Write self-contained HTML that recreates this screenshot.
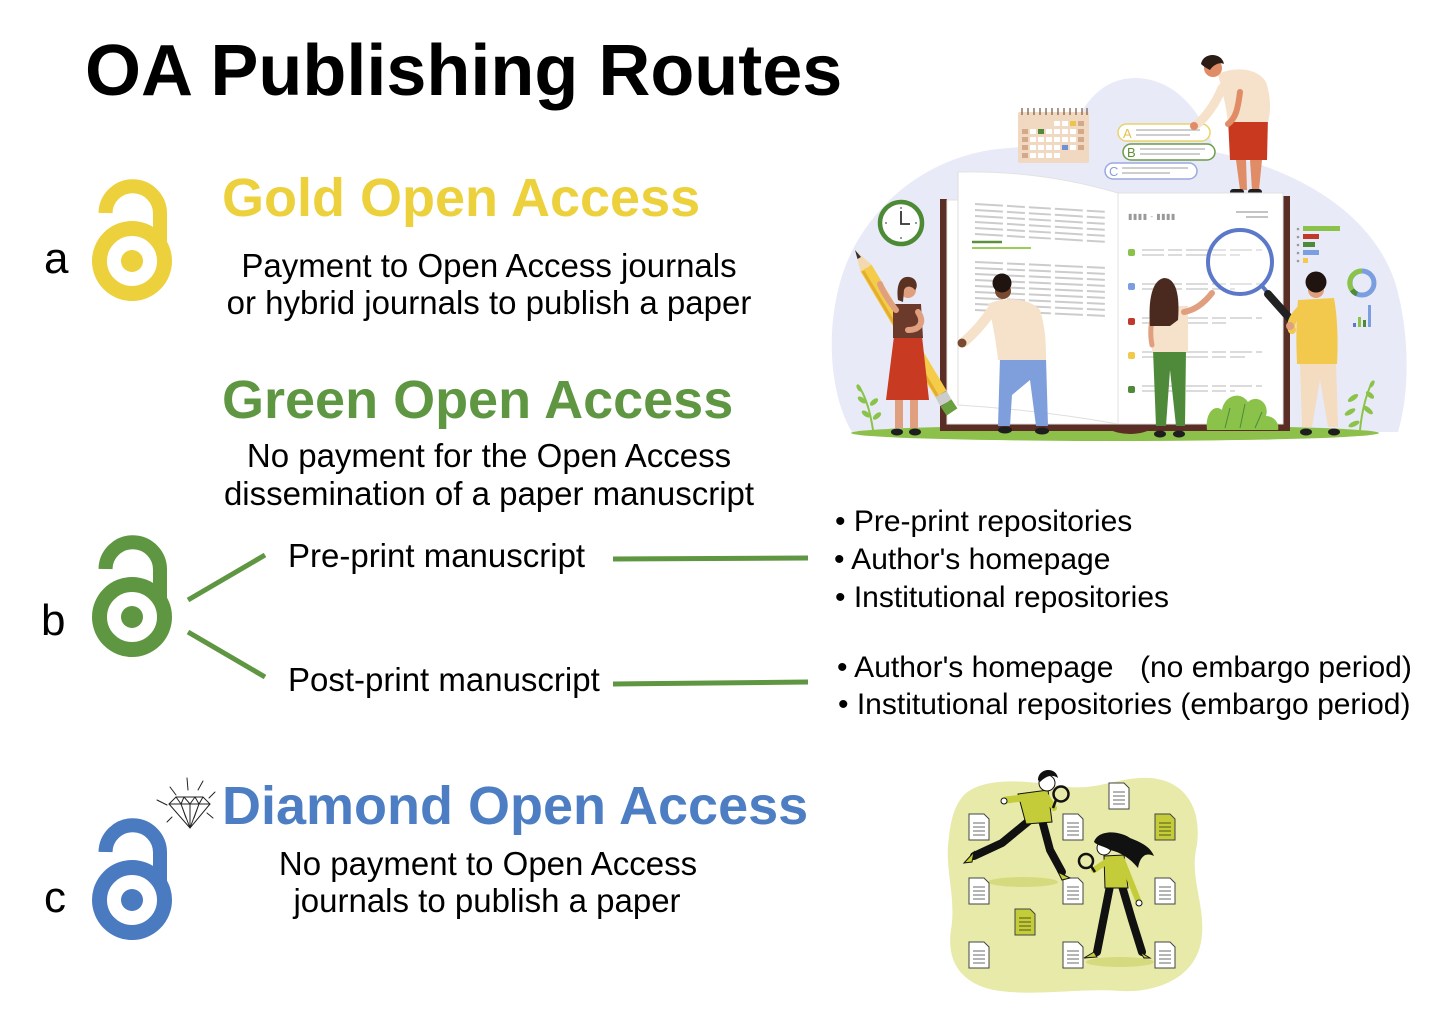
<!DOCTYPE html>
<html>
<head>
<meta charset="utf-8">
<style>
  html,body{margin:0;padding:0;background:#fff;}
  body{width:1448px;height:1013px;overflow:hidden;}
  svg{display:block;}
  text{font-family:"Liberation Sans",Arial,sans-serif;}
</style>
</head>
<body>
<svg width="1448" height="1013" viewBox="0 0 1448 1013" xmlns="http://www.w3.org/2000/svg">
  <rect width="1448" height="1013" fill="#ffffff"/>

  <!-- ===== Title ===== -->
  <text x="85" y="95" font-size="72" font-weight="bold" fill="#000">OA Publishing Routes</text>

  <!-- ===== Letters ===== -->
  <text x="44" y="273" font-size="44" fill="#000">a</text>
  <text x="41" y="635" font-size="44" fill="#000">b</text>
  <text x="44" y="912" font-size="44" fill="#000">c</text>

  <!-- ===== Locks ===== -->
  <g id="lockGold" fill="none" stroke="#ecd03c">
    <path d="M105.5 213 A27 27 0 0 1 160 214 L160 246" stroke-width="14"/>
    <circle cx="132" cy="261" r="32.5" stroke-width="15"/>
    <circle cx="132" cy="261" r="11" fill="#ecd03c" stroke="none"/>
  </g>
  <g transform="translate(0,356)" fill="none" stroke="#5e9641">
    <path d="M105.5 213 A27 27 0 0 1 160 214 L160 246" stroke-width="14"/>
    <circle cx="132" cy="261" r="32.5" stroke-width="15"/>
    <circle cx="132" cy="261" r="11" fill="#5e9641" stroke="none"/>
  </g>
  <g transform="translate(0,639)" fill="none" stroke="#4a7bc0">
    <path d="M105.5 213 A27 27 0 0 1 160 214 L160 246" stroke-width="14"/>
    <circle cx="132" cy="261" r="32.5" stroke-width="15"/>
    <circle cx="132" cy="261" r="11" fill="#4a7bc0" stroke="none"/>
  </g>

  <!-- ===== Diamond icon ===== -->
  <g stroke="#222" stroke-width="1" fill="none" stroke-linecap="round">
    <path d="M176 797 L203 797 L210 804 L190 828 L169 804 Z" fill="#fff"/>
    <path d="M169 804 L210 804"/>
    <path d="M176 797 L181 804 L190 828 M184 797 L181 804 M184 797 L190 804 L195 797 M190 804 L190 828 M203 797 L199 804 L190 828 M195 797 L199 804 M181 804 L186 818 M199 804 L194 818"/>
    <path d="M157 800 L167 805 M170 787 L176 795 M187 778 L188 790 M203 781 L198 790 M215 792 L209 798 M167 822 L172 817 M213 818 L207 813"/>
  </g>

  <!-- ===== Headings ===== -->
  <text x="222" y="216" font-size="54" font-weight="bold" fill="#ecd03c">Gold Open Access</text>
  <text x="222" y="418" font-size="54" font-weight="bold" fill="#5e9641">Green Open Access</text>
  <text x="222" y="824" font-size="54" font-weight="bold" fill="#4d7ec4">Diamond Open Access</text>

  <!-- ===== Body text ===== -->
  <g font-size="33" fill="#000" text-anchor="middle">
    <text x="489" y="277">Payment to Open Access journals</text>
    <text x="489" y="314">or hybrid journals to publish a paper</text>
    <text x="489" y="467">No payment for the Open Access</text>
    <text x="489" y="505">dissemination of a paper manuscript</text>
    <text x="488" y="875">No payment to Open Access</text>
    <text x="487" y="912">journals to publish a paper</text>
  </g>
  <g font-size="33" fill="#000">
    <text x="288" y="567">Pre-print manuscript</text>
    <text x="288" y="691">Post-print manuscript</text>
  </g>

  <!-- ===== Connectors ===== -->
  <g stroke="#5e9641" stroke-width="5" fill="none">
    <line x1="188" y1="600" x2="265" y2="555"/>
    <line x1="188" y1="632" x2="265" y2="677"/>
    <line x1="613" y1="559" x2="808" y2="558"/>
    <line x1="613" y1="684" x2="808" y2="682"/>
  </g>

  <!-- ===== Right lists ===== -->
  <g font-size="30" fill="#000">
    <text x="835" y="531">• Pre-print repositories</text>
    <text x="834" y="569">• Author's homepage</text>
    <text x="835" y="607">• Institutional repositories</text>
    <text x="837" y="677">• Author's homepage</text>
    <text x="1140" y="677">(no embargo period)</text>
    <text x="838" y="714">• Institutional repositories (embargo period)</text>
  </g>

  <!-- ===== Top-right illustration ===== -->
  <g>
    <!-- background blob -->
    <path d="M852 432 C826 390 822 300 858 240 C885 195 930 160 990 150 C1020 146 1050 146 1068 146 C1080 100 1105 78 1135 78 C1170 78 1200 105 1215 152 C1290 168 1370 208 1395 282 C1410 332 1410 392 1398 432 Z" fill="#e8ebf7"/>
    <!-- ground -->
    <ellipse cx="1115" cy="433" rx="264" ry="8" fill="#8dc04b"/>

    <!-- calendar -->
    <rect x="1018" y="112" width="71" height="51" rx="2" fill="#f1d8c1"/>
    <g stroke="#8a6a55" stroke-width="1.4">
      <line x1="1022" y1="108" x2="1022" y2="115"/><line x1="1028" y1="108" x2="1028" y2="115"/>
      <line x1="1034" y1="108" x2="1034" y2="115"/><line x1="1040" y1="108" x2="1040" y2="115"/>
      <line x1="1046" y1="108" x2="1046" y2="115"/><line x1="1052" y1="108" x2="1052" y2="115"/>
      <line x1="1058" y1="108" x2="1058" y2="115"/><line x1="1064" y1="108" x2="1064" y2="115"/>
      <line x1="1070" y1="108" x2="1070" y2="115"/><line x1="1076" y1="108" x2="1076" y2="115"/>
      <line x1="1082" y1="108" x2="1082" y2="115"/><line x1="1087" y1="108" x2="1087" y2="115"/>
    </g>
    <g fill="#ffffff">
      <rect x="1054" y="121" width="6" height="5"/><rect x="1062" y="121" width="6" height="5"/>
      <rect x="1030" y="129" width="6" height="5"/><rect x="1046" y="129" width="6" height="5"/><rect x="1054" y="129" width="6" height="5"/><rect x="1062" y="129" width="6" height="5"/><rect x="1070" y="129" width="6" height="5"/>
      <rect x="1030" y="137" width="6" height="5"/><rect x="1038" y="137" width="6" height="5"/><rect x="1046" y="137" width="6" height="5"/><rect x="1054" y="137" width="6" height="5"/><rect x="1062" y="137" width="6" height="5"/><rect x="1070" y="137" width="6" height="5"/>
      <rect x="1030" y="145" width="6" height="5"/><rect x="1038" y="145" width="6" height="5"/><rect x="1046" y="145" width="6" height="5"/><rect x="1054" y="145" width="6" height="5"/><rect x="1070" y="145" width="6" height="5"/>
      <rect x="1030" y="153" width="6" height="5"/><rect x="1038" y="153" width="6" height="5"/><rect x="1046" y="153" width="6" height="5"/><rect x="1054" y="153" width="6" height="5"/>
    </g>
    <g fill="#d4a98a">
      <rect x="1022" y="129" width="6" height="5"/><rect x="1022" y="137" width="6" height="5"/><rect x="1022" y="145" width="6" height="5"/><rect x="1022" y="153" width="6" height="5"/>
      <rect x="1078" y="121" width="6" height="5"/><rect x="1078" y="129" width="6" height="5"/><rect x="1078" y="137" width="6" height="5"/><rect x="1078" y="145" width="6" height="5"/>
    </g>
    <rect x="1070" y="121" width="6" height="5" fill="#e9c54a"/>
    <rect x="1038" y="129" width="6" height="5" fill="#4e8a3a"/>
    <rect x="1062" y="145" width="6" height="5" fill="#6f8fd8"/>

    <!-- option pills -->
    <rect x="1118" y="124" width="92" height="17" rx="8.5" fill="#fff" stroke="#e8d36c" stroke-width="1.5"/>
    <text x="1123" y="138" font-size="13" fill="#e2c14a">A</text>
    <g stroke="#bdbdbd" stroke-width="1.5"><line x1="1136" y1="130" x2="1200" y2="130"/><line x1="1136" y1="135" x2="1190" y2="135"/></g>
    <rect x="1123" y="144" width="92" height="16" rx="8" fill="#fff" stroke="#6e9a4a" stroke-width="1.5"/>
    <text x="1127" y="157" font-size="13" fill="#5e8f3a">B</text>
    <g stroke="#bdbdbd" stroke-width="1.5"><line x1="1140" y1="149" x2="1205" y2="149"/><line x1="1140" y1="154" x2="1200" y2="154"/></g>
    <rect x="1105" y="163" width="92" height="16" rx="8" fill="#fff" stroke="#9aa9de" stroke-width="1.5"/>
    <text x="1109" y="176" font-size="13" fill="#8b9cd8">C</text>
    <g stroke="#bdbdbd" stroke-width="1.5"><line x1="1122" y1="168" x2="1188" y2="168"/><line x1="1122" y1="173" x2="1170" y2="173"/></g>

    <!-- man on top -->
    <path d="M1236 160 L1240 190 L1247 190 L1246 160 Z M1250 160 L1252 190 L1259 190 L1262 160 Z" fill="#e08c66"/>
    <rect x="1230" y="189" width="14" height="6" rx="3" fill="#1e1e1e"/>
    <rect x="1248" y="189" width="14" height="6" rx="3" fill="#1e1e1e"/>
    <path d="M1228 118 L1268 116 L1267 160 L1230 160 Z" fill="#c8391f"/>
    <path d="M1218 74 C1235 66 1258 68 1266 82 C1272 100 1270 115 1268 122 L1228 122 C1226 105 1222 90 1218 74 Z" fill="#f6e2cb"/>
    <path d="M1222 88 C1215 105 1205 118 1196 125" stroke="#f6e2cb" stroke-width="9" stroke-linecap="round" fill="none"/>
    <circle cx="1194" cy="126" r="4" fill="#e08c66"/>
    <path d="M1240 92 C1238 108 1236 118 1228 124" stroke="#e08c66" stroke-width="6" stroke-linecap="round" fill="none"/>
    <circle cx="1213" cy="68" r="9" fill="#e08c66"/>
    <path d="M1201 64 C1203 52 1222 52 1224 64 C1220 62 1214 64 1210 70 C1206 68 1203 66 1201 64 Z" fill="#2b1d16"/>

    <!-- book -->
    <rect x="940" y="199" width="7" height="232" fill="#5a2e24"/>
    <rect x="1283" y="196" width="7" height="235" fill="#5a2e24"/>
    <rect x="940" y="424" width="350" height="7" fill="#5a2e24"/>
    <path d="M1105 428 Q1130 440 1155 428 Z" fill="#5a2e24"/>
    <path d="M947 424 L947 200 L958 200 L958 172 Q1040 170 1118 193 L1118 424 Z" fill="#ffffff" stroke="#e2e2e2" stroke-width="1"/>
    <path d="M958 172 L958 405 Q1040 410 1118 424" fill="none" stroke="#dedede" stroke-width="1"/>
    <rect x="1118" y="193" width="165" height="231" fill="#ffffff" stroke="#e2e2e2" stroke-width="1"/>

    <!-- left page text -->
    <g stroke="#cccccc" stroke-width="2" stroke-dasharray="28 4 18 4 22 4">
      <line x1="975" y1="204" x2="1108" y2="212"/>
      <line x1="975" y1="210" x2="1108" y2="218"/>
      <line x1="975" y1="216" x2="1108" y2="224"/>
      <line x1="975" y1="222" x2="1108" y2="230"/>
      <line x1="975" y1="228" x2="1108" y2="236"/>
      <line x1="975" y1="234" x2="1108" y2="242"/>
      <line x1="975" y1="262" x2="1108" y2="268"/>
      <line x1="975" y1="268" x2="1108" y2="274"/>
      <line x1="975" y1="274" x2="1108" y2="280"/>
      <line x1="975" y1="280" x2="1108" y2="286"/>
      <line x1="975" y1="286" x2="1108" y2="292"/>
      <line x1="975" y1="292" x2="1108" y2="298"/>
      <line x1="975" y1="298" x2="1108" y2="304"/>
      <line x1="975" y1="304" x2="1108" y2="310"/>
      <line x1="975" y1="310" x2="1108" y2="316"/>
    </g>
    <line x1="972" y1="242" x2="1002" y2="242" stroke="#5e8f3a" stroke-width="2.5"/>
    <line x1="972" y1="248" x2="1031" y2="248" stroke="#9ccc58" stroke-width="2"/>

    <!-- right page content -->
    <text x="1128" y="219" font-size="8" fill="#9a9a9a" letter-spacing="0.5">▮▮▮▮ - ▮▮▮▮</text>
    <line x1="1236" y1="212" x2="1268" y2="212" stroke="#b0b0b0" stroke-width="1.5"/>
    <line x1="1246" y1="217" x2="1268" y2="217" stroke="#b0b0b0" stroke-width="1.5"/>
    <rect x="1128" y="249" width="7" height="7" rx="2" fill="#8bc34a"/>
    <rect x="1128" y="283" width="7" height="7" rx="2" fill="#7b9ee0"/>
    <rect x="1128" y="318" width="7" height="7" rx="2" fill="#c0392b"/>
    <rect x="1128" y="352" width="7" height="7" rx="2" fill="#f2c94c"/>
    <rect x="1128" y="386" width="7" height="7" rx="2" fill="#4e8a3a"/>
    <g stroke="#cfcfcf" stroke-width="1.6" stroke-dasharray="22 4 14 4">
      <line x1="1142" y1="250" x2="1262" y2="250"/><line x1="1142" y1="255" x2="1240" y2="255"/>
      <line x1="1142" y1="284" x2="1262" y2="284"/><line x1="1142" y1="289" x2="1235" y2="289"/>
      <line x1="1142" y1="318" x2="1262" y2="318"/><line x1="1142" y1="323" x2="1230" y2="323"/>
      <line x1="1142" y1="352" x2="1262" y2="352"/><line x1="1142" y1="357" x2="1245" y2="357"/>
      <line x1="1142" y1="386" x2="1262" y2="386"/><line x1="1142" y1="391" x2="1235" y2="391"/>
    </g>

    <!-- clock -->
    <circle cx="901" cy="223" r="21" fill="#ffffff" stroke="#4c8a36" stroke-width="4.5"/>
    <g stroke="#555" stroke-width="1.2">
      <line x1="901" y1="207" x2="901" y2="209"/><line x1="901" y1="237" x2="901" y2="239"/>
      <line x1="885" y1="223" x2="887" y2="223"/><line x1="915" y1="223" x2="917" y2="223"/>
    </g>
    <path d="M901 211 L901 224 L910 224" stroke="#333" stroke-width="1.8" fill="none"/>

    <!-- pencil -->
    <line x1="866" y1="268" x2="941" y2="394" stroke="#f5cc4a" stroke-width="13"/>
    <line x1="863" y1="271" x2="938" y2="397" stroke="#e3ad2d" stroke-width="3"/>
    <polygon points="855,250 860.5,271.5 871.5,264.5" fill="#f3d9b0"/>
    <polygon points="855,250 857.5,259 861,257" fill="#333"/>
    <line x1="941" y1="394" x2="946" y2="403" stroke="#cccccc" stroke-width="13"/>
    <line x1="946" y1="403" x2="952" y2="412" stroke="#6a9f3f" stroke-width="13"/>

    <!-- woman left -->
    <rect x="895" y="398" width="8" height="30" fill="#e0a080"/>
    <rect x="910" y="398" width="8" height="30" fill="#e0a080"/>
    <ellipse cx="897" cy="432" rx="6" ry="3.5" fill="#1e1e1e"/>
    <ellipse cx="915" cy="432" rx="6" ry="3.5" fill="#1e1e1e"/>
    <path d="M894 336 L922 336 L929 400 L886 400 Z" fill="#c93a22"/>
    <path d="M893 304 L921 304 L923 338 L893 338 Z" fill="#6b3a2a"/>
    <path d="M896 310 C888 300 883 292 880 284" stroke="#e0a080" stroke-width="6" stroke-linecap="round" fill="none"/>
    <path d="M918 312 C925 322 920 330 908 330" stroke="#e0a080" stroke-width="6" stroke-linecap="round" fill="none"/>
    <circle cx="908" cy="290" r="8" fill="#e0a080"/>
    <path d="M898 300 C896 285 900 276 909 277 C918 278 918 288 915 290 C912 286 906 285 904 290 L903 302 Z" fill="#5b3222"/>

    <!-- man middle -->
    <path d="M1000 358 L1046 358 L1048 426 L1036 426 L1030 380 L1012 395 L1010 426 L998 426 Z" fill="#7f9fdc"/>
    <ellipse cx="1005" cy="430" rx="7" ry="3.5" fill="#1e1e1e"/>
    <ellipse cx="1042" cy="431" rx="7" ry="3.5" fill="#1e1e1e"/>
    <path d="M988 304 C1005 296 1030 298 1040 310 C1046 330 1046 345 1046 360 L998 360 C996 340 992 320 988 304 Z" fill="#f6e2cb"/>
    <path d="M992 310 C982 325 972 335 964 342" stroke="#f6e2cb" stroke-width="10" stroke-linecap="round" fill="none"/>
    <circle cx="962" cy="343" r="4.5" fill="#7a4a30"/>
    <circle cx="1003" cy="291" r="8" fill="#7a4a30"/>
    <circle cx="1002" cy="283" r="9.5" fill="#1f140f"/>

    <!-- woman center -->
    <path d="M1153 350 L1186 350 L1185 426 L1176 426 L1170 370 L1166 426 L1156 426 Z" fill="#4f8a3a"/>
    <ellipse cx="1160" cy="434" rx="6" ry="3.5" fill="#1e1e1e"/>
    <ellipse cx="1179" cy="434" rx="6" ry="3.5" fill="#1e1e1e"/>
    <path d="M1152 306 L1188 306 L1188 352 L1152 352 Z" fill="#f6e2cb"/>
    <path d="M1184 312 C1196 310 1205 302 1212 293" stroke="#e0a080" stroke-width="6" stroke-linecap="round" fill="none"/>
    <path d="M1154 312 C1150 325 1150 335 1152 345" stroke="#e0a080" stroke-width="5" stroke-linecap="round" fill="none"/>
    <path d="M1150 326 C1148 300 1152 280 1164 278 C1176 278 1180 295 1178 320 L1170 326 Z" fill="#4a2a1e"/>

    <!-- magnifier -->
    <circle cx="1240" cy="262" r="32" fill="#ffffff" fill-opacity="0.25" stroke="#5b78c9" stroke-width="4"/>
    <line x1="1262" y1="286" x2="1268" y2="293" stroke="#5b78c9" stroke-width="4"/>
    <line x1="1268" y1="294" x2="1292" y2="321" stroke="#222" stroke-width="8" stroke-linecap="round"/>

    <!-- man right -->
    <path d="M1300 363 L1336 363 L1338 427 L1328 427 L1320 380 L1312 427 L1302 427 Z" fill="#f3dcc0"/>
    <ellipse cx="1306" cy="432" rx="6" ry="3.5" fill="#1e1e1e"/>
    <ellipse cx="1334" cy="432" rx="6" ry="3.5" fill="#1e1e1e"/>
    <path d="M1298 300 L1334 298 C1338 320 1338 345 1337 364 L1297 364 C1296 340 1296 320 1298 300 Z" fill="#f2c94c"/>
    <path d="M1300 310 C1292 318 1290 325 1292 330" stroke="#f2c94c" stroke-width="8" stroke-linecap="round" fill="none"/>
    <circle cx="1290" cy="326" r="4" fill="#e0a080"/>
    <circle cx="1316" cy="290" r="8" fill="#e0a080"/>
    <circle cx="1316" cy="282" r="10.5" fill="#1f140f"/>

    <!-- charts -->
    <g fill="#9a9a9a">
      <circle cx="1298" cy="229" r="1.3"/><circle cx="1298" cy="237" r="1.3"/><circle cx="1298" cy="245" r="1.3"/><circle cx="1298" cy="253" r="1.3"/><circle cx="1298" cy="261" r="1.3"/>
    </g>
    <rect x="1303" y="226" width="37" height="5" fill="#8bc34a"/>
    <rect x="1303" y="234" width="16" height="5" fill="#c0392b"/>
    <rect x="1303" y="242" width="12" height="5" fill="#4e8a3a"/>
    <rect x="1303" y="250" width="16" height="5" fill="#7b9ee0"/>
    <rect x="1303" y="258" width="5" height="5" fill="#f2c94c"/>
    <circle cx="1362" cy="283" r="12" fill="none" stroke="#7b9ee0" stroke-width="5"/>
    <path d="M1362 271 A12 12 0 0 0 1352 290" fill="none" stroke="#8bc34a" stroke-width="5"/>
    <path d="M1352 290 A12 12 0 0 0 1357 294" fill="none" stroke="#4e8a3a" stroke-width="5"/>
    <rect x="1353" y="323" width="3" height="4" fill="#5b78c9"/>
    <rect x="1358" y="317" width="3" height="10" fill="#8bc34a"/>
    <rect x="1363" y="320" width="3" height="7" fill="#4e8a3a"/>
    <rect x="1368" y="305" width="3" height="22" fill="#7b9ee0"/>

    <!-- plants -->
    <g fill="#8bc34a">
      <path d="M873 430 C870 410 865 395 858 385" stroke="#8bc34a" stroke-width="2" fill="none"/>
      <ellipse cx="862" cy="400" rx="5" ry="2.5" transform="rotate(35 862 400)"/>
      <ellipse cx="874" cy="402" rx="5" ry="2.5" transform="rotate(-40 874 402)"/>
      <ellipse cx="866" cy="414" rx="5" ry="2.5" transform="rotate(35 866 414)"/>
      <ellipse cx="877" cy="416" rx="5" ry="2.5" transform="rotate(-40 877 416)"/>
      <ellipse cx="859" cy="388" rx="4" ry="2" transform="rotate(60 859 388)"/>
      <path d="M1360 430 C1362 410 1366 395 1372 382" stroke="#8bc34a" stroke-width="2" fill="none"/>
      <ellipse cx="1353" cy="398" rx="6" ry="2.5" transform="rotate(-35 1353 398)"/>
      <ellipse cx="1370" cy="395" rx="5" ry="2.5" transform="rotate(40 1370 395)"/>
      <ellipse cx="1350" cy="412" rx="6" ry="2.5" transform="rotate(-30 1350 412)"/>
      <ellipse cx="1368" cy="410" rx="6" ry="2.5" transform="rotate(40 1368 410)"/>
      <ellipse cx="1354" cy="424" rx="6" ry="2.5" transform="rotate(-25 1354 424)"/>
      <ellipse cx="1372" cy="384" rx="4" ry="2" transform="rotate(-60 1372 384)"/>
      <path d="M1207 430 C1205 412 1215 404 1222 410 C1224 396 1240 390 1248 402 C1256 394 1270 402 1266 416 C1274 416 1280 424 1278 430 Z"/>
    </g>
    <g stroke="#4e8a3a" stroke-width="1" fill="none">
      <path d="M1225 428 L1230 408 M1240 428 L1245 404 M1255 428 L1262 412"/>
    </g>
  </g>

  <!-- ===== Bottom-right illustration ===== -->
  <g>
    <path d="M960 800 C975 776 1025 780 1060 786 C1098 792 1118 776 1150 778 C1190 781 1203 815 1196 850 C1190 880 1207 910 1201 942 C1195 976 1160 993 1120 991 C1080 988 1040 996 1000 991 C962 986 946 962 951 930 C956 900 946 872 948 846 C950 826 952 812 960 800 Z" fill="#e8eaa9"/>
    <ellipse cx="1023" cy="882" rx="35" ry="5" fill="#d6da7e"/>
    <ellipse cx="1120" cy="962" rx="34" ry="5" fill="#d6da7e"/>

    <!-- documents -->
    <g stroke="#444" stroke-width="1">
      <g fill="#ffffff">
        <path d="M1109 783 L1124 783 L1129 788 L1129 809 L1109 809 Z"/>
        <path d="M969 814 L984 814 L989 819 L989 840 L969 840 Z"/>
        <path d="M1063 814 L1078 814 L1083 819 L1083 840 L1063 840 Z"/>
        <path d="M969 878 L984 878 L989 883 L989 904 L969 904 Z"/>
        <path d="M1063 878 L1078 878 L1083 883 L1083 904 L1063 904 Z"/>
        <path d="M1155 878 L1170 878 L1175 883 L1175 904 L1155 904 Z"/>
        <path d="M969 942 L984 942 L989 947 L989 968 L969 968 Z"/>
        <path d="M1063 942 L1078 942 L1083 947 L1083 968 L1063 968 Z"/>
        <path d="M1155 942 L1170 942 L1175 947 L1175 968 L1155 968 Z"/>
      </g>
      <g fill="#c4cc3a">
        <path d="M1155 814 L1170 814 L1175 819 L1175 840 L1155 840 Z"/>
        <path d="M1015 909 L1030 909 L1035 914 L1035 935 L1015 935 Z"/>
      </g>
    </g>
    <g stroke="#888" stroke-width="1.2">
      <path d="M1113 792 H1125 M1113 796 H1125 M1113 800 H1125 M1113 804 H1125"/>
      <path d="M973 823 H985 M973 827 H985 M973 831 H985 M973 835 H985"/>
      <path d="M1067 823 H1079 M1067 827 H1079 M1067 831 H1079 M1067 835 H1079"/>
      <path d="M973 887 H985 M973 891 H985 M973 895 H985 M973 899 H985"/>
      <path d="M1067 887 H1079 M1067 891 H1079 M1067 895 H1079 M1067 899 H1079"/>
      <path d="M1159 887 H1171 M1159 891 H1171 M1159 895 H1171 M1159 899 H1171"/>
      <path d="M973 951 H985 M973 955 H985 M973 959 H985 M973 963 H985"/>
      <path d="M1067 951 H1079 M1067 955 H1079 M1067 959 H1079 M1067 963 H1079"/>
      <path d="M1159 951 H1171 M1159 955 H1171 M1159 959 H1171 M1159 963 H1171"/>
    </g>
    <g stroke="#6b7020" stroke-width="1.2">
      <path d="M1159 823 H1171 M1159 827 H1171 M1159 831 H1171 M1159 835 H1171"/>
      <path d="M1019 918 H1031 M1019 922 H1031 M1019 926 H1031 M1019 930 H1031"/>
    </g>

    <!-- running man -->
    <path d="M1030 820 L1002 843 L974 856" stroke="#111" stroke-width="8" fill="none" stroke-linejoin="round" stroke-linecap="round"/>
    <path d="M1042 820 L1050 850 L1062 872" stroke="#111" stroke-width="8" fill="none" stroke-linejoin="round" stroke-linecap="round"/>
    <path d="M974 852 L964 863 L972 862 Z" fill="#c4cc3a" stroke="#111" stroke-width="1"/>
    <path d="M1058 872 L1070 878 L1062 880 Z" fill="#c4cc3a" stroke="#111" stroke-width="1"/>
    <path d="M1018 794 L1048 790 L1052 822 L1026 824 Z" fill="#c4cc3a" stroke="#111" stroke-width="1"/>
    <path d="M1022 798 L1006 800" stroke="#c4cc3a" stroke-width="7" stroke-linecap="round"/>
    <circle cx="1004" cy="801" r="3" fill="#fff" stroke="#111" stroke-width="1"/>
    <path d="M1046 796 L1054 808" stroke="#c4cc3a" stroke-width="6" stroke-linecap="round"/>
    <circle cx="1047" cy="783" r="8" fill="#fff" stroke="#111" stroke-width="1"/>
    <path d="M1038 780 C1038 768 1056 766 1058 778 C1052 774 1046 776 1040 782 Z" fill="#111"/>
    <circle cx="1061" cy="794" r="7.5" fill="none" stroke="#111" stroke-width="2.5"/>
    <line x1="1056" y1="800" x2="1053" y2="808" stroke="#111" stroke-width="2.5"/>

    <!-- woman -->
    <path d="M1110 886 L1097 952" stroke="#111" stroke-width="8" stroke-linecap="round"/>
    <path d="M1122 886 L1132 920 L1142 952" stroke="#111" stroke-width="8" fill="none" stroke-linecap="round" stroke-linejoin="round"/>
    <path d="M1094 952 L1084 958 L1097 957 Z" fill="#c4cc3a" stroke="#111" stroke-width="1"/>
    <path d="M1140 952 L1150 958 L1144 958 Z" fill="#c4cc3a" stroke="#111" stroke-width="1"/>
    <path d="M1104 856 L1124 855 L1128 888 L1105 888 Z" fill="#c4cc3a" stroke="#111" stroke-width="1"/>
    <path d="M1122 860 L1138 900" stroke="#c4cc3a" stroke-width="6" stroke-linecap="round"/>
    <circle cx="1139" cy="903" r="3" fill="#fff" stroke="#111" stroke-width="1"/>
    <path d="M1106 862 L1094 870" stroke="#c4cc3a" stroke-width="6" stroke-linecap="round"/>
    <circle cx="1104" cy="848" r="7" fill="#fff" stroke="#111" stroke-width="1"/>
    <path d="M1094 842 C1098 830 1118 830 1130 838 C1140 842 1150 846 1154 856 C1146 852 1140 856 1138 868 C1130 858 1120 852 1110 850 C1104 846 1098 846 1094 842 Z" fill="#111"/>
    <circle cx="1086" cy="861" r="7" fill="none" stroke="#111" stroke-width="2.5"/>
    <line x1="1091" y1="866" x2="1095" y2="872" stroke="#111" stroke-width="2.5"/>
  </g>
</svg>
</body>
</html>
